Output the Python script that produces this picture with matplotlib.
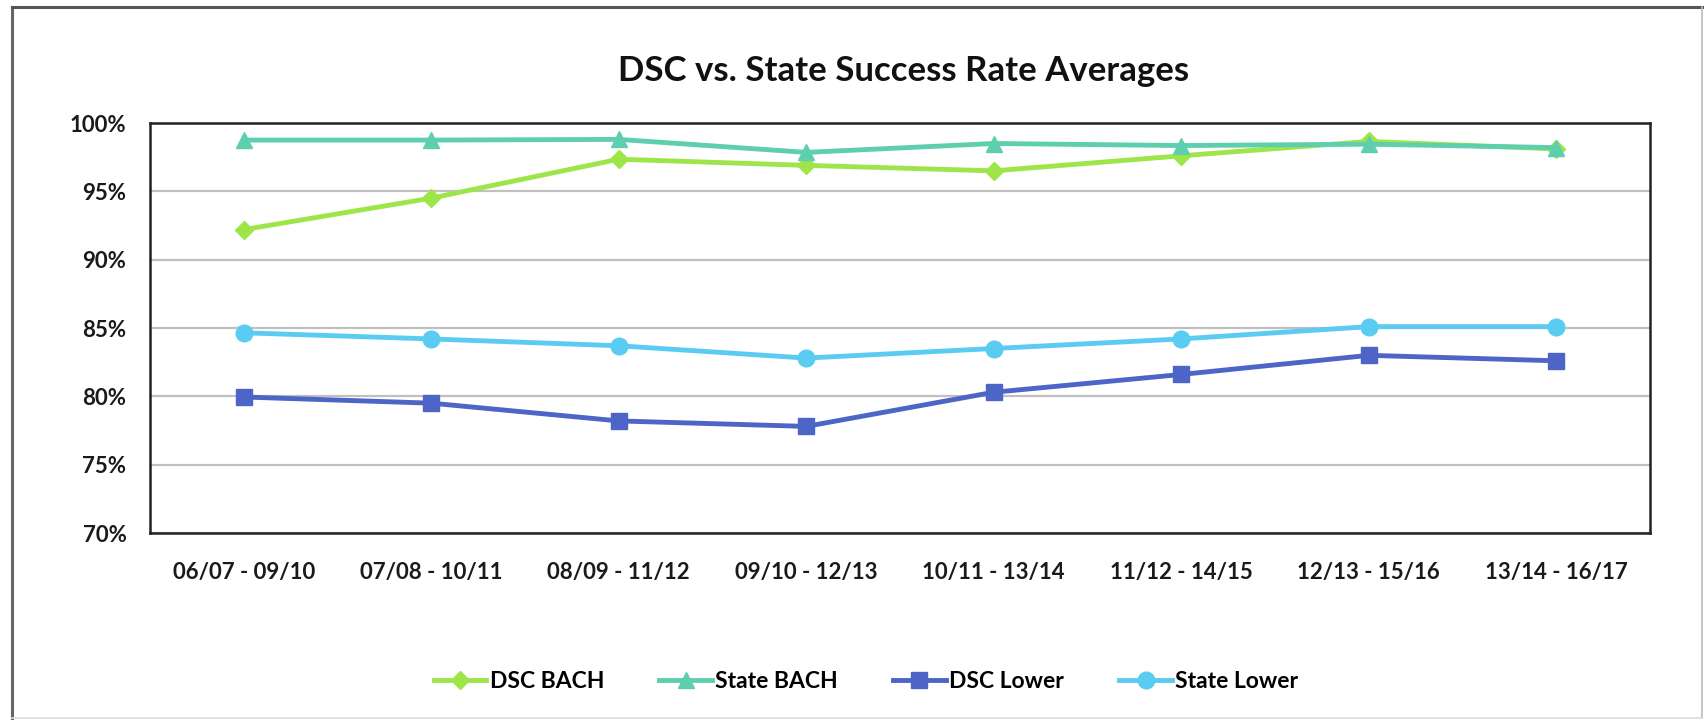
import matplotlib
matplotlib.use("Agg")
import matplotlib.pyplot as plt
from matplotlib.lines import Line2D
from matplotlib.ticker import FuncFormatter

periods = ["06/07 - 09/10", "07/08 - 10/11", "08/09 - 11/12", "09/10 - 12/13",
           "10/11 - 13/14", "11/12 - 14/15", "12/13 - 15/16", "13/14 - 16/17"]
dsc_bach = [92.2, 94.5, 97.35, 96.9, 96.5, 97.6, 98.65, 98.1]
state_bach = [98.75, 98.75, 98.8, 97.85, 98.5, 98.35, 98.45, 98.2]
dsc_lower = [79.95, 79.5, 78.2, 77.8, 80.3, 81.6, 83.0, 82.6]
state_lower = [84.65, 84.2, 83.7, 82.8, 83.5, 84.2, 85.1, 85.1]

plt.rcParams['font.family'] = ['Lato', 'DejaVu Sans']

fig = plt.figure(figsize=(17.04, 7.2), dpi=100)
ax = fig.add_axes([150 / 1704, 1 - 533 / 720, 1500 / 1704, 410 / 720])

x = range(len(periods))
ax.plot(x, dsc_bach, color='#9EE54A', lw=3.5, marker='D', ms=9, label='DSC BACH', zorder=3)
ax.plot(x, state_bach, color='#5DCFAE', lw=3.5, marker='^', ms=12, label='State BACH', zorder=3)
ax.plot(x, dsc_lower, color='#4D65C6', lw=3.5, marker='s', ms=11, label='DSC Lower', zorder=3)
ax.plot(x, state_lower, color='#5BCCF1', lw=3.5, marker='o', ms=12, label='State Lower', zorder=3)

ax.set_xlim(-0.5, len(periods) - 0.5)
ax.set_ylim(70, 100)
ax.set_yticks(range(70, 101, 5))
ax.yaxis.set_major_formatter(FuncFormatter(lambda v, p: "{:d}%".format(int(v))))
ax.set_xticks(list(x))
ax.set_xticklabels(periods)
ax.grid(axis='y', color='#C0C0C0', lw=1.6, zorder=0)
ax.tick_params(axis='both', length=0, labelsize=16, colors='#1a1a1a')
ax.tick_params(axis='y', pad=17)
ax.tick_params(axis='x', pad=21)
for lab in ax.get_xticklabels() + ax.get_yticklabels():
    lab.set_fontweight('bold')
for s in ax.spines.values():
    s.set_color('#222222')
    s.set_linewidth(1.8)

fig.text(904 / 1704, 1 - 71 / 720, "DSC vs. State Success Rate Averages",
         ha='center', va='center', fontsize=25, fontweight='bold', color='#111111')

fig.legend(loc='center', bbox_to_anchor=(866 / 1704, 1 - 682 / 720), ncol=4,
           frameon=False, handlelength=2.3, columnspacing=2.4, handletextpad=0.15,
           prop={'weight': 'bold', 'size': 16.5})

# outer chart frame
fig.add_artist(Line2D([12 / 1704, 12 / 1704], [0, 1 - 7 / 720], color='#666666', lw=2.2))
fig.add_artist(Line2D([12 / 1704, 1702 / 1704], [1 - 7 / 720, 1 - 7 / 720], color='#555555', lw=2.2))
fig.add_artist(Line2D([1702 / 1704, 1702 / 1704], [2 / 720, 1 - 7 / 720], color='#BBBBBB', lw=1.2))
fig.add_artist(Line2D([12 / 1704, 1702 / 1704], [2 / 720, 2 / 720], color='#DDDDDD', lw=1.2))

plt.savefig('out.png', dpi=100)
